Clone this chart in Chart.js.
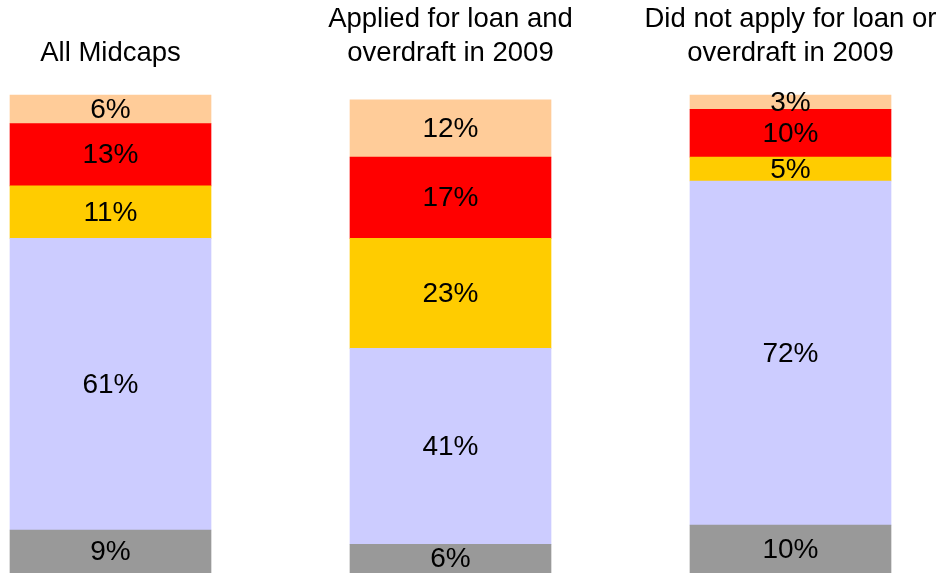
<!DOCTYPE html>
<html>
<head>
<meta charset="utf-8">
<script src="https://cdn.jsdelivr.net/npm/chart.js@4"></script>
<style>
  html, body { margin: 0; padding: 0; background: #fff; }
  #wrap { width: 944px; height: 573px; }
</style>
</head>
<body>
<div id="wrap"><canvas id="midcapChart"></canvas></div>
<script>
var categories = [
    ["All Midcaps"],
    ["Applied for loan and", "overdraft in 2009"],
    ["Did not apply for loan or", "overdraft in 2009"]
];
// stacked from the bottom up, in percent
var band1 = [9, 6, 10];
var band2 = [61, 41, 72];
var band3 = [11, 23, 5];
var band4 = [13, 17, 10];
var band5 = [6, 12, 3];
var bandColors = ["#999999", "#ccccff", "#ffcc00", "#ff0000", "#ffcc99"];

var fontFamily = "'Liberation Sans', Arial, Helvetica, sans-serif";

// writes "NN%" in the middle of every bar segment
var segmentLabels = {
    id: "segmentLabels",
    afterDatasetsDraw: function (chart) {
        var ctx = chart.ctx;
        ctx.save();
        ctx.font = "28px " + fontFamily;
        ctx.fillStyle = "#000";
        ctx.textAlign = "center";
        ctx.textBaseline = "middle";
        chart.data.datasets.forEach(function (ds, i) {
            chart.getDatasetMeta(i).data.forEach(function (bar, j) {
                var p = bar.getCenterPoint();
                ctx.fillText(ds.data[j] + "%", p.x, p.y + 1);
            });
        });
        ctx.restore();
    }
};

var sets = [band1, band2, band3, band4, band5].map(function (vals, i) {
    return {
        label: "Band " + (i + 1),
        data: vals,
        backgroundColor: bandColors[i],
        borderWidth: 0,
        barThickness: 201,
        clip: false
    };
});

new Chart("midcapChart", {
    type: "bar",
    data: {
        labels: categories,
        datasets: sets
    },
    plugins: [segmentLabels],
    options: {
        responsive: true,
        maintainAspectRatio: false,
        animation: false,
        layout: {
            padding: { left: 110.5, right: 153.5, top: -23, bottom: 0 }
        },
        plugins: {
            legend: { display: false },
            tooltip: { enabled: false }
        },
        scales: {
            x: {
                position: "top",
                stacked: true,
                offset: false,
                grid: { display: false, drawTicks: false },
                border: { display: false },
                ticks: {
                    color: "#000",
                    padding: 25,
                    autoSkip: false,
                    maxRotation: 0,
                    font: { size: 27.5, family: fontFamily, lineHeight: 1.236 }
                },
                // the outer labels may hang past the plot edges; keep the plot width fixed
                afterFit: function (scale) {
                    scale.paddingLeft = 0;
                    scale.paddingRight = 0;
                }
            },
            y: {
                stacked: true,
                display: false,
                min: 0,
                max: 100
            }
        }
    }
});
</script>
</body>
</html>
